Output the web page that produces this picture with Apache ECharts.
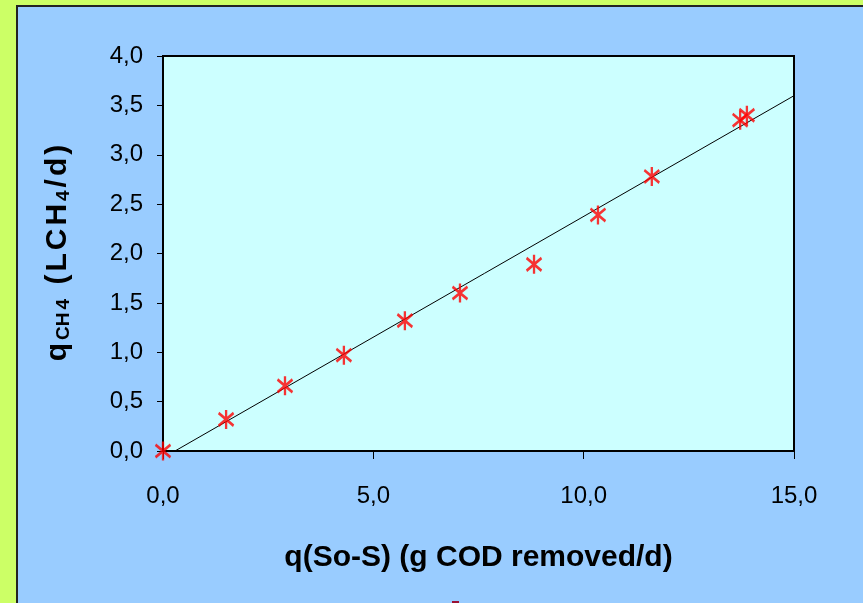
<!DOCTYPE html>
<html>
<head>
<meta charset="utf-8">
<script src="https://cdn.jsdelivr.net/npm/echarts@6/dist/echarts.min.js"></script>
<style>
  html, body { margin: 0; padding: 0; background: #CCFF66; }
  #chart { width: 863px; height: 603px; }
</style>
</head>
<body>
<div id="chart"></div>
<script>
// Substrate removed vs. methane produced
const removedCOD = [0.0, 1.50, 2.90, 4.30, 5.75, 7.06, 8.82, 10.34, 11.62, 13.72, 13.88];
const methaneRate = [0.00, 0.32, 0.66, 0.97, 1.32, 1.60, 1.89, 2.39, 2.78, 3.35, 3.40];

// Linear trend line end points
const trendX = [0.285, 15.0];
const trendY = [0.0, 3.598];

// Axis ranges and steps
const xAxisMin = 0, xAxisMax = 15, xAxisStep = 5;
const yAxisMin = 0, yAxisMax = 4, yAxisStep = 0.5;

const xTitle = 'q(So-S) (g COD removed/d)';

const fmt = v => v.toFixed(1).replace('.', ',');

const chart = echarts.init(document.getElementById('chart'), null, { renderer: 'canvas' });

const pointData = removedCOD.map((x, i) => [x, methaneRate[i]]);
const trendData = trendX.map((x, i) => [x, trendY[i]]);

const main = 'bold 30px "Liberation Sans", Arial, sans-serif';
const sub = 'bold 19px "Liberation Sans", Arial, sans-serif';

const option = {
  backgroundColor: '#CCFF66',
  animation: false,
  graphic: [
    {
      type: 'rect',
      z: -10,
      shape: { x: 17, y: 6, width: 900, height: 700 },
      style: { fill: '#99CCFF', stroke: '#222222', lineWidth: 2 }
    },
    {
      type: 'rect',
      z: -5,
      shape: { x: 452, y: 601, width: 7, height: 3 },
      style: { fill: '#991133' }
    },
    {
      type: 'text',
      x: 58,
      y: 253,
      rotation: Math.PI / 2,
      style: {
        text: '{m|q}{s|CH}{s|4}{sp| }{m|(}{m|L}{m|C}{m|H}{s|4}{m|/}{m|d}{m|)}',
        align: 'center',
        verticalAlign: 'middle',
        fill: '#000',
        rich: {
          m: { font: main, fill: '#000', padding: [0, 1.5], verticalAlign: 'bottom' },
          s: { font: sub, fill: '#000', padding: [0, 1.5], verticalAlign: 'bottom' },
          sp: { font: main, padding: [0, 1.5] }
        }
      }
    }
  ],
  grid: {
    left: 163, top: 56, right: 69, bottom: 152,
    show: true,
    backgroundColor: '#CCFFFF',
    borderColor: '#000',
    borderWidth: 2
  },
  xAxis: {
    type: 'value',
    min: xAxisMin, max: xAxisMax, interval: xAxisStep,
    name: xTitle,
    nameLocation: 'middle',
    nameGap: 92,
    nameTextStyle: { fontFamily: 'Liberation Sans', fontWeight: 'bold', fontSize: 30, color: '#000' },
    axisLine: { show: true, onZero: false, lineStyle: { color: '#000', width: 2 } },
    axisTick: { show: true, inside: false, length: 8, lineStyle: { color: '#000', width: 1 } },
    axisLabel: { formatter: fmt, margin: 33, fontFamily: 'Liberation Sans', fontSize: 24, color: '#000' },
    splitLine: { show: false }
  },
  yAxis: {
    type: 'value',
    min: yAxisMin, max: yAxisMax, interval: yAxisStep,
    axisLine: { show: true, onZero: false, lineStyle: { color: '#000', width: 2 } },
    axisTick: { show: true, inside: false, length: 6, lineStyle: { color: '#000', width: 1 } },
    axisLabel: { formatter: fmt, margin: 20, fontFamily: 'Liberation Sans', fontSize: 24, color: '#000' },
    splitLine: { show: false }
  },
  series: [
    {
      type: 'line',
      data: trendData,
      showSymbol: false,
      symbol: 'none',
      lineStyle: { color: '#000', width: 1 },
      z: 3,
      silent: true
    },
    {
      type: 'scatter',
      data: pointData,
      symbol: 'path://M7,0L7,18M0,3L14,15M14,3L0,15',
      symbolSize: [15, 19],
      itemStyle: { color: 'rgba(0,0,0,0)', borderColor: '#FF0000', borderWidth: 2.6 },
      z: 4
    }
  ]
};

chart.setOption(option);
</script>
</body>
</html>
